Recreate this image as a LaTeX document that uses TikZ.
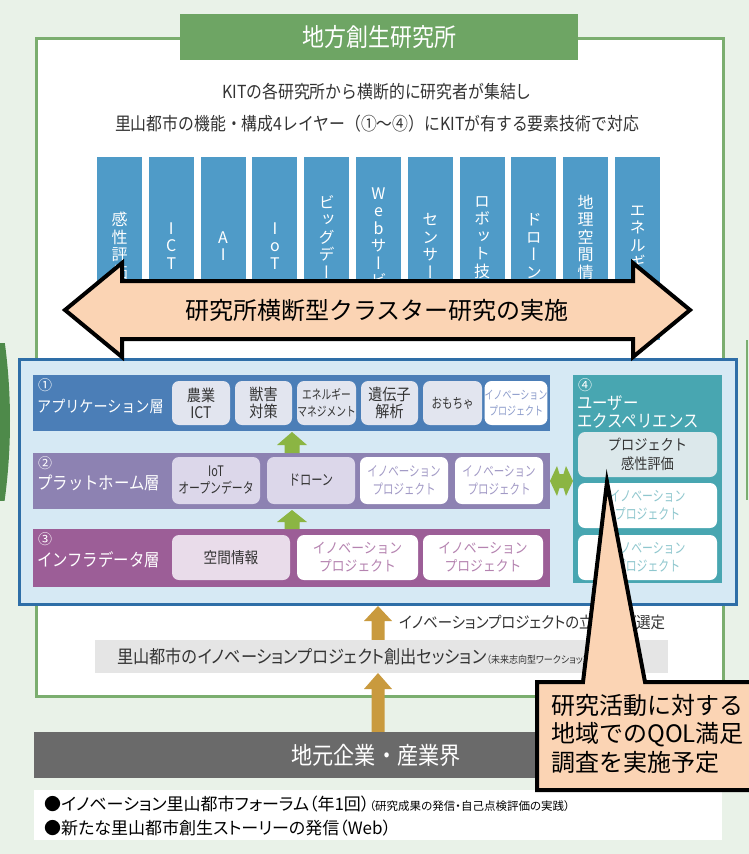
\documentclass[tikz,border=0pt]{standalone}
\usepackage{fontspec}
\setmainfont{Noto Sans CJK JP}
\newfontfamily\nar{Noto Sans CJK JP}[FakeStretch=0.88]
\newfontfamily\cnd{Noto Sans CJK JP}[FakeStretch=0.75]
\newfontfamily\pnar{Noto Sans CJK JP}[FakeStretch=0.9,RawFeature=+palt]
\newfontfamily\pfnt{Noto Sans CJK JP}[RawFeature=+palt]
\newfontfamily\vfnt{Noto Sans CJK JP}[RawFeature=+vert]
\newcommand\fsz[2]{\fontsize{#1}{#2}\selectfont}
\definecolor{bgG}{HTML}{E9F2E8}
\definecolor{frameG}{HTML}{7BAE6F}
\definecolor{titleG}{HTML}{6EA564}
\definecolor{ellG}{HTML}{4E8A4A}
\definecolor{colB}{HTML}{4F9BC8}
\definecolor{peach}{HTML}{FBD4B4}
\definecolor{panelB}{HTML}{D6E9F4}
\definecolor{panelE}{HTML}{2E6EA7}
\definecolor{rowA}{HTML}{4B7EB7}
\definecolor{rowB}{HTML}{8D82B2}
\definecolor{rowC}{HTML}{9C5E97}
\definecolor{rowD}{HTML}{48A6B1}
\definecolor{boxA}{HTML}{E2E5EF}
\definecolor{boxB}{HTML}{DCD7EA}
\definecolor{boxC}{HTML}{E9DCEA}
\definecolor{boxD}{HTML}{DCE8EB}
\definecolor{innA}{HTML}{8C9CCB}
\definecolor{innB}{HTML}{A29AC6}
\definecolor{innC}{HTML}{B583B0}
\definecolor{innD}{HTML}{8FC7CE}
\definecolor{arrG}{HTML}{8BB543}
\definecolor{gold}{HTML}{C99A3E}
\definecolor{bandG}{HTML}{E5E5E5}
\definecolor{darkG}{HTML}{6A6A6A}
\definecolor{txt}{HTML}{333333}
\begin{document}
\begin{tikzpicture}[x=1pt,y=-1pt,
  colbox/.style={fill=colB, minimum width=45pt, minimum height=183pt, inner sep=0pt},
  coltext/.style={text=white, align=center, inner sep=0pt, font=\vfnt\fsz{16}{17.5}},
  tbox/.style={rounded corners=7pt, inner sep=0pt, align=center, text=txt},
  rowlbl/.style={anchor=west, inner sep=0pt, text=white},
  blockarrow/.style={line width=4pt, fill=peach, draw=black, line join=miter, miter limit=25},
  greenarr/.style={fill=arrG},
  goldarr/.style={fill=gold}]
\useasboundingbox (0,0) rectangle (749,854);
\fill[bgG] (0,0) rectangle (749,854);
% left dark green sliver and right line
\begin{scope}
\clip (0,343) rectangle (18,500);
\fill[ellG] (-290,421) ellipse [x radius=300pt, y radius=420pt];
\end{scope}
\draw[frameG, line width=1.2pt] (747,340) -- (747,500);
% frame
\node[draw=frameG, line width=3pt, fill=white, minimum width=687pt, minimum height=658pt, inner sep=0pt, anchor=north west] (frame) at (35,37) {};
\node[fill=titleG, minimum width=398pt, minimum height=46pt, inner sep=0pt, text=white, font=\nar\fsz{25}{30}] (title) at (379,37) {地方創生研究所};
\node[text=txt, inner sep=0pt, font=\nar\fsz{18}{21}] (intro1) at (377,92) {KITの各研究所から横断的に研究者が集結し};
\node[text=txt, inner sep=0pt, font=\nar\fsz{18}{21}] (intro2) at (377,124) {里山都市の機能・構成4レイヤー（①〜④）にKITが有する要素技術で対応};
% columns
\foreach \i/\t in {0/{感\\性\\評\\価},1/{I\\C\\T},2/{A\\I},3/{I\\o\\T},4/{ビ\\ッ\\グ\\デ\\ー\\\phantom{タ}},5/{W\\e\\b\\サ\\ー\\ビ\\\phantom{ス}},6/{セ\\ン\\サ\\ー},7/{ロ\\ボ\\ッ\\ト\\技\\\phantom{術}},8/{ド\\ロ\\ー\\ン},9/{地\\理\\空\\間\\情\\\phantom{報}},10/{エ\\ネ\\ル\\ギ\\ー}}{
  \pgfmathsetmacro\cx{97+51.8*\i+22.5}
  \node[colbox] (col\i) at (\cx,248.5) {};
  \node[coltext] (colt\i) at (\cx,246) {\t};
}
% layer panel
\node[draw=panelE, line width=2.5pt, fill=panelB, minimum width=717pt, minimum height=245pt, inner sep=0pt, anchor=north west] (panel) at (18,358) {};
% big cluster arrow
\draw[blockarrow] (65,310) -- (122,263) -- (122,281) -- (633,281) -- (633,263) -- (690,310) -- (633,357) -- (633,339) -- (122,339) -- (122,357) -- cycle;
\node[inner sep=0pt, font=\fsz{24}{28}] (cluster) at (377,310) {研究所横断型クラスター研究の実施};
% rows
\node[fill=rowA, minimum width=517pt, minimum height=56pt, inner sep=0pt, anchor=north west] (rowA) at (33,375) {};
\node[fill=rowB, minimum width=517pt, minimum height=56pt, inner sep=0pt, anchor=north west] (rowB) at (33,453) {};
\node[fill=rowC, minimum width=517pt, minimum height=58pt, inner sep=0pt, anchor=north west] (rowC) at (33,529) {};
\node[fill=rowD, minimum width=149pt, minimum height=208pt, inner sep=0pt, anchor=north west] (rowD) at (573,375) {};
\node[rowlbl, font=\fsz{14}{16}] (numA) at (38,385) {①};
\node[rowlbl, font=\nar\fsz{16}{19}] (lblA) at (37,406) {アプリケーション層};
\node[rowlbl, font=\fsz{14}{16}] (numB) at (38,463) {②};
\node[rowlbl, font=\nar\fsz{17.5}{20}] (lblB) at (37,483) {プラットホーム層};
\node[rowlbl, font=\fsz{14}{16}] (numC) at (38,539) {③};
\node[rowlbl, font=\nar\fsz{17.5}{20}] (lblC) at (37,560) {インフラデータ層};
\node[rowlbl, font=\fsz{14}{16}] (numD) at (578,385) {④};
\node[rowlbl, font=\nar\fsz{17.5}{20}] (lblD1) at (577,403) {ユーザー};
\node[rowlbl, font=\nar\fsz{17.5}{20}] (lblD2) at (577,421) {エクスペリエンス};
% row A boxes
\node[tbox, fill=boxA, minimum width=58pt, minimum height=44pt, font=\nar\fsz{16}{17}] (a1) at (201,403) {農業\\ICT};
\node[tbox, fill=boxA, minimum width=57pt, minimum height=44pt, font=\nar\fsz{16}{17}] (a2) at (263.5,403) {獣害\\対策};
\node[tbox, fill=boxA, minimum width=59pt, minimum height=44pt, font=\cnd\fsz{13}{17}] (a3) at (326.5,403) {エネルギー\\マネジメント};
\node[tbox, fill=boxA, minimum width=57pt, minimum height=44pt, font=\nar\fsz{16}{17}] (a4) at (389.5,403) {遺伝子\\解析};
\node[tbox, fill=boxA, minimum width=59pt, minimum height=44pt, font=\cnd\fsz{14}{17}] (a5) at (452.5,403) {おもちゃ};
\node[tbox, fill=white, text=innA, minimum width=58pt, minimum height=44pt, font=\cnd\fsz{12}{16}] (a6) at (516,403) {イノベーション\\プロジェクト};
% row B boxes
\node[tbox, fill=boxB, minimum width=88pt, minimum height=47pt, font=\cnd\fsz{14.5}{17}] (b1) at (216,480.5) {IoT\\オープンデータ};
\node[tbox, fill=boxB, minimum width=88pt, minimum height=47pt, font=\cnd\fsz{15}{17}] (b2) at (311,480.5) {ドローン};
\node[tbox, fill=white, text=innB, minimum width=88pt, minimum height=47pt, font=\cnd\fsz{14}{18}] (b3) at (404,480.5) {イノベーション\\プロジェクト};
\node[tbox, fill=white, text=innB, minimum width=88pt, minimum height=47pt, font=\cnd\fsz{14}{18}] (b4) at (499,480.5) {イノベーション\\プロジェクト};
% row C boxes
\node[tbox, fill=boxC, minimum width=118pt, minimum height=45pt, font=\nar\fsz{15.5}{17}] (c1) at (231,557.5) {空間情報};
\node[tbox, fill=white, text=innC, minimum width=121pt, minimum height=45pt, font=\nar\fsz{14.5}{18}] (c2) at (357.5,557.5) {イノベーション\\プロジェクト};
\node[tbox, fill=white, text=innC, minimum width=120pt, minimum height=45pt, font=\nar\fsz{14.5}{18}] (c3) at (483,557.5) {イノベーション\\プロジェクト};
% row D boxes
\node[tbox, fill=boxD, minimum width=139pt, minimum height=45pt, font=\nar\fsz{15}{19}] (d1) at (647.5,454.5) {プロジェクト\\感性評価};
\node[tbox, fill=white, text=innD, minimum width=139pt, minimum height=45pt, font=\cnd\fsz{14.5}{18}] (d2) at (647.5,505.5) {イノベーション\\プロジェクト};
\node[tbox, fill=white, text=innD, minimum width=139pt, minimum height=45pt, font=\cnd\fsz{14.5}{18}] (d3) at (647.5,557.5) {イノベーション\\プロジェクト};
% green arrows
\fill[greenarr] (292,432) -- (307,445) -- (299.5,445) -- (299.5,453) -- (284.5,453) -- (284.5,445) -- (277,445) -- cycle;
\fill[greenarr] (292,510) -- (307,522) -- (299.5,522) -- (299.5,529) -- (284.5,529) -- (284.5,522) -- (277,522) -- cycle;
\fill[greenarr] (550,481) -- (557,466) -- (559.5,474) -- (563.5,474) -- (566,466) -- (573,481) -- (566,496) -- (563.5,488) -- (559.5,488) -- (557,496) -- cycle;
% gold arrow 1 and text
\fill[goldarr] (378,606) -- (392,621) -- (384.5,621) -- (384.5,640) -- (371.5,640) -- (371.5,621) -- (364,621) -- cycle;
\node[anchor=west, inner sep=0pt, text=txt, font=\pnar\fsz{16}{18}] (selnote) at (399,622) {イノベーションプロジェクトの立案及び選定};
% session band
\node[fill=bandG, minimum width=573pt, minimum height=33pt, inner sep=0pt, anchor=north west] (band) at (95,640) {};
\node[anchor=west, inner sep=0pt, text=txt, font=\pnar\fsz{18}{21}] (bandtext) at (117,657) {里山都市のイノベーションプロジェクト創出セッション{\fsz{10}{12}（未来志向型ワークショップ）}};
% gold arrow 2
\fill[goldarr] (378,673) -- (392,689) -- (384.5,689) -- (384.5,732) -- (371.5,732) -- (371.5,689) -- (364,689) -- cycle;
% dark bar
\node[fill=darkG, minimum width=688pt, minimum height=46pt, inner sep=0pt, anchor=north west] (industry) at (34,732) {};
\node[text=white, inner sep=0pt, font=\nar\fsz{24}{28}] (industrytext) at (376,755) {地元企業・産業界};
% bottom box
\node[fill=white, minimum width=688pt, minimum height=50pt, inner sep=0pt, anchor=north west] (bottom) at (34,790) {};
\node[anchor=west, inner sep=0pt, text=black, font=\pfnt\fsz{17}{20}] (bl1) at (44,804) {●イノベーション里山都市フォーラム（年1回）{\fsz{11.5}{13}（研究成果の発信・自己点検評価の実践）}};
\node[anchor=west, inner sep=0pt, text=black, font=\pfnt\fsz{17}{20}] (bl2) at (44,828) {●新たな里山都市創生ストーリーの発信（Web）};
% callout
\draw[blockarrow] (537,682) -- (583,682) -- (607,482) -- (645,682) -- (760,682) -- (760,790) -- (537,790) -- cycle;
\node[anchor=north west, align=left, inner sep=0pt, font=\fsz{24}{28.5}] (callout) at (551,694) {研究活動に対する\\地域でのQOL満足\\調査を実施予定};
\end{tikzpicture}
\end{document}
